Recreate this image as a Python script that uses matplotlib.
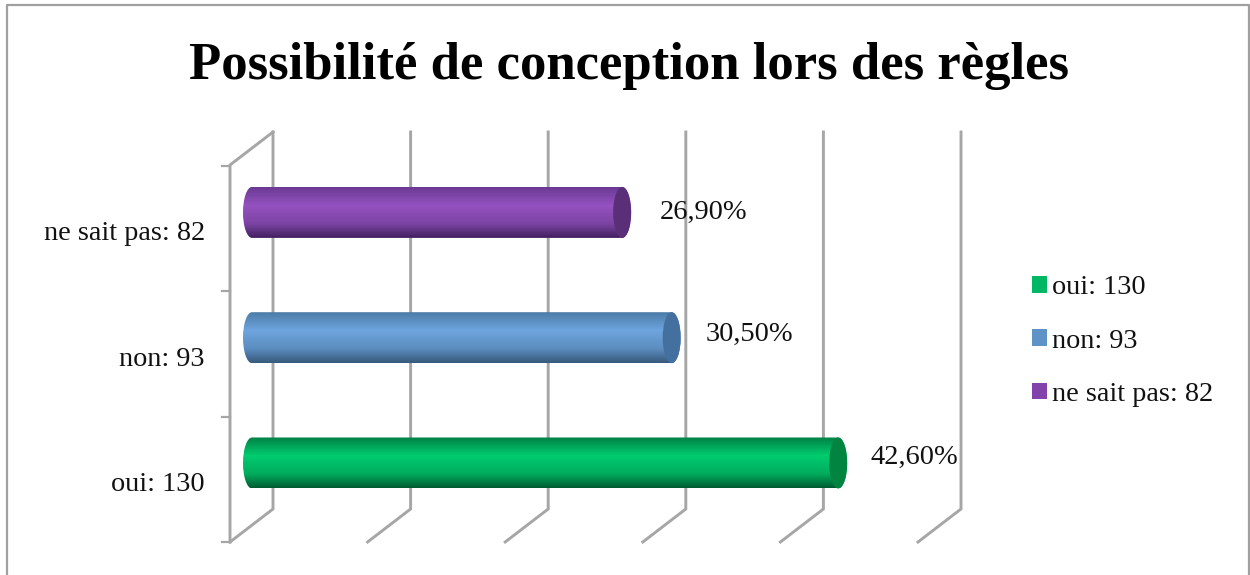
import numpy as np
import matplotlib
matplotlib.use("Agg")
import matplotlib.pyplot as plt
from matplotlib.colors import LinearSegmentedColormap
from matplotlib.patches import Ellipse, PathPatch, Rectangle
from matplotlib.path import Path

plt.rcParams['font.family'] = ['Liberation Serif', 'DejaVu Serif']

title = "Possibilité de conception lors des règles"
categories = ["oui: 130", "non: 93", "ne sait pas: 82"]
percents = [42.6, 30.5, 26.9]
percent_labels = ["42,60%", "30,50%", "26,90%"]
grid_values = [0, 10, 20, 30, 40, 50]

legend_colors = ["#00b864", "#5f93c8", "#8243ab"]
cap_colors = ["#00843f", "#44709f", "#5a2f78"]
body_colors = [
    ["#007f45", "#00cc6f", "#00ad5e", "#005c31"],
    ["#4c7ba8", "#6ea5de", "#5c8dbf", "#37597c"],
    ["#6b3a94", "#9452c0", "#7c44a4", "#42205f"],
]

W, H = 1250, 575
PX_PER_PCT = 13.76
PX_PER_CAT = 125.3
X0_PX = 252
Y0_PX = 463

fig = plt.figure(figsize=(W / 100, H / 100), dpi=100)
ax = fig.add_axes([0, 0, 1, 1])
ax.axis("off")

xlim = (-X0_PX / PX_PER_PCT, (W - X0_PX) / PX_PER_PCT)
ylim = ((Y0_PX - H) / PX_PER_CAT, Y0_PX / PX_PER_CAT)


def dx(px):
    return px / PX_PER_PCT


def dy(px):
    return px / PX_PER_CAT


GREY = "#a6a6a6"
LW = 2.1

# outer frame (open at the bottom)
ax.plot([dx(7 - X0_PX), dx(7 - X0_PX), dx(1249 - X0_PX), dx(1249 - X0_PX)],
        [ylim[0], dy(Y0_PX - 5), dy(Y0_PX - 5), ylim[0]], color="#a0a0a0", lw=1.6)

# back wall lines with the floor diagonals
y_low = dy(Y0_PX - 542)
y_back_low = dy(Y0_PX - 509)
y_back_top = dy(Y0_PX - 132)
y_top = dy(Y0_PX - 165)
depth = dx(43)
back0 = dx(21)
for v in grid_values:
    ax.plot([v + back0 - depth, v + back0, v + back0],
            [y_low, y_back_low, y_back_top], color=GREY, lw=LW, solid_joinstyle="miter")

# front axis, top diagonal, ticks
x_front = back0 - depth
ax.plot([x_front, x_front, x_front + depth], [y_low, y_top, y_back_top],
        color=GREY, lw=LW, solid_joinstyle="miter")
for k in range(len(categories) + 1):
    ax.plot([x_front - dx(8), x_front], [y_low + k, y_low + k], color=GREY, lw=1.6)

# cylinders
bar_h = dy(51)
cap_w = dx(18)
K = 0.5523
for i, (val, cols) in enumerate(zip(percents, body_colors)):
    top, bot = i + bar_h / 2, i - bar_h / 2
    a = cap_w / 2
    b = bar_h / 2
    verts = [(0, bot),
             (-a * K, bot), (-a, i - b * K), (-a, i),
             (-a, i + b * K), (-a * K, top), (0, top),
             (val, top),
             (val + a * K, top), (val + a, i + b * K), (val + a, i),
             (val + a, i - b * K), (val + a * K, bot), (val, bot),
             (0, bot)]
    codes = [Path.MOVETO] + [Path.CURVE4] * 6 + [Path.LINETO] + [Path.CURVE4] * 6 + [Path.CLOSEPOLY]
    outline = PathPatch(Path(verts, codes), fc="none", ec="none", zorder=3)
    ax.add_patch(outline)
    cmap = LinearSegmentedColormap.from_list("bar", list(zip([0, 0.36, 0.72, 1], cols)))
    grad = np.linspace(0, 1, 128).reshape(-1, 1)
    im = ax.imshow(grad, cmap=cmap, aspect="auto", zorder=3, interpolation="bilinear",
                   extent=(-a, val + a, bot, top))
    im.set_clip_path(outline)
    ax.add_patch(Ellipse((val, i), cap_w, bar_h, fc=cap_colors[i], ec="none", zorder=4))

# data labels
for i, (val, txt) in enumerate(zip(percents, percent_labels)):
    off_x = {0: 32, 1: 34, 2: 38}[i]
    off_y = {0: 6, 1: 3, 2: 0}[i]
    ax.text(val + dx(off_x), i + dy(off_y), txt, fontsize=20.5, ha="left", va="center", color="#111111", zorder=5)

# category labels
for i, name in enumerate(categories):
    ax.text(dx(205 - X0_PX), i - dy(21.5), name, fontsize=20.3, ha="right", va="center", color="#111111")

ax.text(dx(629 - X0_PX), dy(Y0_PX - 66), title, fontsize=38, fontweight="bold", ha="center", va="center", color="black")

handles = [Rectangle((0, 0), 1, 1, fc=c, ec="none") for c in legend_colors]
leg = ax.legend(handles, categories, loc="upper left", frameon=False,
                bbox_to_anchor=(1032 / W, 1 - 275.5 / H), fontsize=20.3,
                handlelength=0.53, handleheight=0.53, handletextpad=0.18,
                labelspacing=1.0, borderpad=0, borderaxespad=0)
for t in leg.get_texts():
    t.set_color("#111111")

ax.set_xlim(xlim)
ax.set_ylim(ylim)
fig.savefig("out.png", dpi=100)
